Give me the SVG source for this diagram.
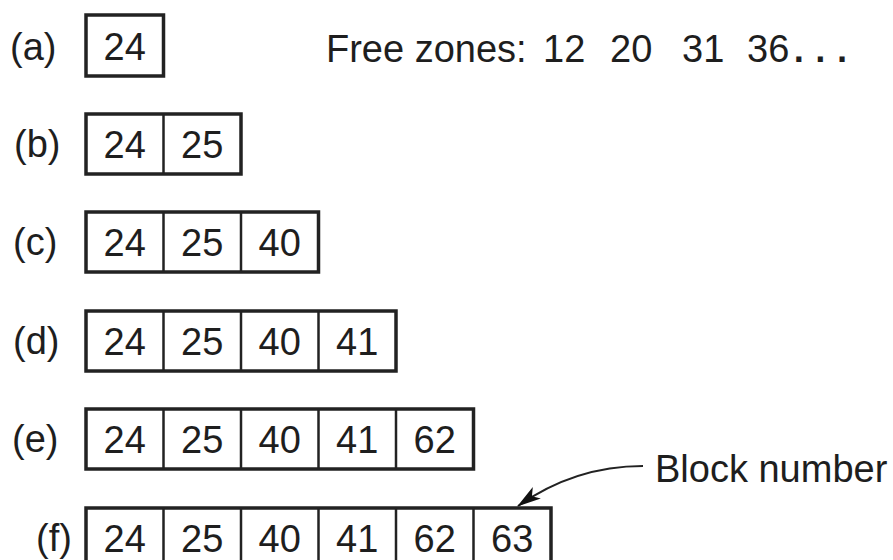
<svg xmlns="http://www.w3.org/2000/svg" width="893" height="560" viewBox="0 0 893 560">
<style>
.t{font-family:"Liberation Sans",Arial,sans-serif;font-size:38px;fill:#1e1e1e}
.c{text-anchor:middle}
.box{fill:#fff;stroke:#222;stroke-width:3.5}
.div{stroke:#222;stroke-width:2.5}
.arr{fill:none;stroke:#222;stroke-width:2}
</style>
<defs>
<marker id="ah" markerWidth="24" markerHeight="14" refX="23" refY="7" orient="auto" markerUnits="userSpaceOnUse">
<path d="M0,0 L24,7 L0,14 L6,7 Z" fill="#111"/>
</marker>
</defs>
<rect width="893" height="560" fill="#fff"/>

<g id="free-zones">
<text class="t" x="326" y="62">Free zones:</text>
<text class="t" x="543" y="62">12</text>
<text class="t" x="610" y="62">20</text>
<text class="t" x="682" y="62">31</text>
<text class="t" x="747" y="62">36</text>
<text x="788" y="62" style="font-family:'Liberation Mono',monospace;font-size:36px;font-weight:bold;fill:#1e1e1e">...</text>
</g>

<g id="row-a">
<text class="t" x="10" y="60">(a)</text>
<rect class="box" x="86" y="15" width="77.5" height="61"/>
<text class="t c" x="124.75" y="60">24</text>
</g>

<g id="row-b">
<text class="t" x="14" y="157">(b)</text>
<rect class="box" x="86" y="114" width="155" height="60"/>
<line class="div" x1="163.5" y1="114" x2="163.5" y2="174"/>
<text class="t c" x="124.75" y="158">24</text>
<text class="t c" x="202.25" y="158">25</text>
</g>

<g id="row-c">
<text class="t" x="13" y="255">(c)</text>
<rect class="box" x="86" y="212" width="232.5" height="60"/>
<line class="div" x1="163.5" y1="212" x2="163.5" y2="272"/>
<line class="div" x1="241" y1="212" x2="241" y2="272"/>
<text class="t c" x="124.75" y="256">24</text>
<text class="t c" x="202.25" y="256">25</text>
<text class="t c" x="279.75" y="256">40</text>
</g>

<g id="row-d">
<text class="t" x="13" y="354">(d)</text>
<rect class="box" x="86" y="311" width="310" height="60"/>
<line class="div" x1="163.5" y1="311" x2="163.5" y2="371"/>
<line class="div" x1="241" y1="311" x2="241" y2="371"/>
<line class="div" x1="318.5" y1="311" x2="318.5" y2="371"/>
<text class="t c" x="124.75" y="355">24</text>
<text class="t c" x="202.25" y="355">25</text>
<text class="t c" x="279.75" y="355">40</text>
<text class="t c" x="357.25" y="355">41</text>
</g>

<g id="row-e">
<text class="t" x="12" y="452">(e)</text>
<rect class="box" x="86" y="409" width="387.5" height="60"/>
<line class="div" x1="163.5" y1="409" x2="163.5" y2="469"/>
<line class="div" x1="241" y1="409" x2="241" y2="469"/>
<line class="div" x1="318.5" y1="409" x2="318.5" y2="469"/>
<line class="div" x1="396" y1="409" x2="396" y2="469"/>
<text class="t c" x="124.75" y="453">24</text>
<text class="t c" x="202.25" y="453">25</text>
<text class="t c" x="279.75" y="453">40</text>
<text class="t c" x="357.25" y="453">41</text>
<text class="t c" x="434.75" y="453">62</text>
</g>

<g id="row-f">
<text class="t" x="36" y="551">(f)</text>
<rect class="box" x="86" y="508" width="465" height="60"/>
<line class="div" x1="163.5" y1="508" x2="163.5" y2="568"/>
<line class="div" x1="241" y1="508" x2="241" y2="568"/>
<line class="div" x1="318.5" y1="508" x2="318.5" y2="568"/>
<line class="div" x1="396" y1="508" x2="396" y2="568"/>
<line class="div" x1="473.5" y1="508" x2="473.5" y2="568"/>
<text class="t c" x="124.75" y="552">24</text>
<text class="t c" x="202.25" y="552">25</text>
<text class="t c" x="279.75" y="552">40</text>
<text class="t c" x="357.25" y="552">41</text>
<text class="t c" x="434.75" y="552">62</text>
<text class="t c" x="512.25" y="552">63</text>
</g>

<g id="block-number">
<text class="t" x="655" y="482">Block number</text>
</g>

<g id="connectors">
<path class="arr" d="M643,466 Q575,466 518,506" marker-end="url(#ah)"/>
</g>
</svg>
